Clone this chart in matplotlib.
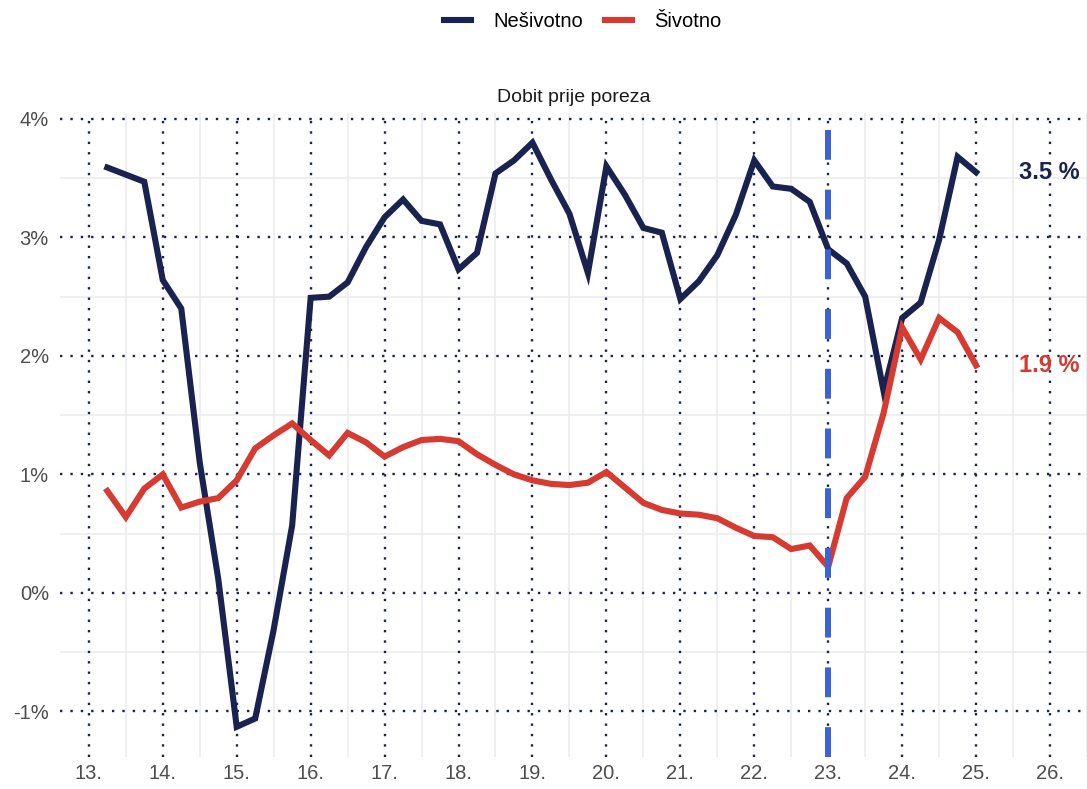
import matplotlib
matplotlib.use("Agg")
import matplotlib.pyplot as plt
import numpy as np
from matplotlib.lines import Line2D

plt.rcParams['font.family'] = ['Liberation Sans', 'DejaVu Sans']

# quarterly dates expressed as year (2-digit) fractions
quarters = [13 + 0.25 * i for i in range(1, 49)]  # 13.25 .. 25.0

nesivotno = [3.59, 3.53, 3.47, 2.64, 2.40, 1.10, 0.12, -1.13, -1.06, -0.31, 0.57, 2.49,
             2.50, 2.62, 2.92, 3.17, 3.32, 3.14, 3.11, 2.73, 2.87, 3.54, 3.65, 3.80,
             3.49, 3.20, 2.70, 3.60, 3.36, 3.08, 3.04, 2.48, 2.63, 2.85, 3.19, 3.65,
             3.43, 3.41, 3.30, 2.90, 2.78, 2.50, 1.70, 2.32, 2.45, 2.98, 3.68, 3.55]

zivotno = [0.86, 0.64, 0.88, 1.00, 0.72, 0.77, 0.80, 0.95, 1.22, 1.33, 1.43, 1.29,
           1.16, 1.35, 1.27, 1.15, 1.23, 1.29, 1.30, 1.28, 1.17, 1.08, 1.00, 0.95,
           0.92, 0.91, 0.93, 1.02, 0.89, 0.76, 0.70, 0.67, 0.66, 0.63, 0.55, 0.48,
           0.47, 0.37, 0.40, 0.22, 0.80, 0.98, 1.52, 2.24, 1.97, 2.32, 2.20, 1.92]

series_names = ["Nešivotno", "Šivotno"]
end_labels = ["3.5 %", "1.9 %"]
vline_x = 23.0

x_ticks = list(range(13, 27))
x_tick_labels = [f"{t}." for t in x_ticks]
y_ticks = [-1, 0, 1, 2, 3, 4]
y_tick_labels = [f"{t}%" for t in y_ticks]

NAVY = "#1a2350"
RED = "#d63a31"
BLUE = "#3b63d4"
GRID_DOT = "#1a2350"

fig = plt.figure(figsize=(10.87, 7.89), dpi=100)
ax = fig.add_axes([60 / 1087, 1 - 757 / 789, 1 - 60 / 1087, (757 - 113) / 789])

ax.set_xlim(12.61, 26.5)
ax.set_ylim(-1.385, 4.05)

# minor grid (solid light)
for xv in np.arange(12.5, 27, 1.0):
    ax.axvline(xv, color="#ebebeb", lw=1.1, zorder=0)
for yv in np.arange(-1.5, 4.5, 1.0):
    ax.axhline(yv, color="#ebebeb", lw=1.1, zorder=0)
# major grid (dotted)
for xv in x_ticks:
    ax.axvline(xv, color=GRID_DOT, lw=1.7, ls=(0, (1, 3.4)), zorder=1)
for yv in y_ticks:
    ax.axhline(yv, color=GRID_DOT, lw=1.7, ls=(0, (1, 3.4)), zorder=1)

ax.plot(quarters, nesivotno, color=NAVY, lw=4.4, solid_joinstyle="miter", zorder=3)
ax.plot(quarters, zivotno, color=RED, lw=4.4, solid_joinstyle="miter", zorder=3)
ax.axvline(vline_x, color=BLUE, lw=4.3, ls=(0, (5, 5)), zorder=4)

ax.text(25.58, nesivotno[-1], end_labels[0], color=NAVY, fontsize=17, fontweight="bold",
        va="center", ha="left")
ax.text(25.58, zivotno[-1], end_labels[1], color=RED, fontsize=17, fontweight="bold",
        va="center", ha="left")

ax.set_xticks(x_ticks)
ax.set_xticklabels(x_tick_labels)
ax.set_yticks(y_ticks)
ax.set_yticklabels(y_tick_labels)
ax.tick_params(axis="both", length=0, labelsize=14.5, labelcolor="#4d4d4d")
ax.tick_params(axis="x", pad=5)
ax.tick_params(axis="y", pad=8)
for s in ax.spines.values():
    s.set_visible(False)

ax.set_title("Dobit prije poreza", fontsize=14, color="#1a1a1a", pad=8)

handles = [Line2D([0], [0], color=NAVY, lw=4.4), Line2D([0], [0], color=RED, lw=4.4)]
fig.legend(handles, series_names, loc="upper center", bbox_to_anchor=(0.536, 1.008), ncol=2,
           frameon=False, fontsize=14.5, handlelength=1.35, columnspacing=1.1, handletextpad=1.1)

fig.savefig("out.png", dpi=100)
